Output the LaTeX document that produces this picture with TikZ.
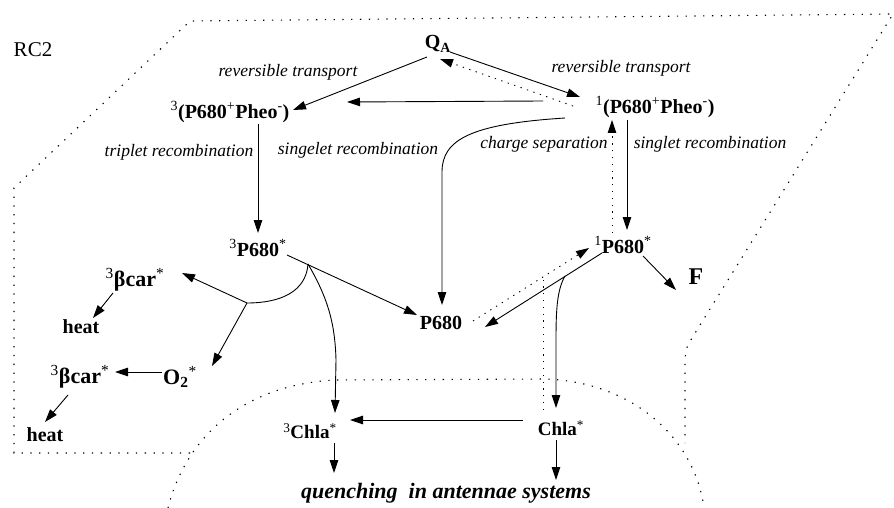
\documentclass[tikz,border=0pt]{standalone}
\usepackage{fontspec}
\setmainfont{Liberation Serif}
\usetikzlibrary{arrows.meta,calc}
\newcommand{\sps}[1]{\textsuperscript{\mdseries #1}}
\begin{document}
\begin{tikzpicture}[x=1pt,y=-1pt,
  sp/.style={font=\fontsize{20}{22}\selectfont\bfseries, inner sep=0pt},
  spbig/.style={font=\fontsize{22}{24}\selectfont\bfseries, inner sep=0pt},
  lab/.style={font=\fontsize{17.5}{19}\selectfont\itshape, inner sep=0pt},
  arr/.style={-{Triangle[length=13pt,width=8.5pt]}, line width=0.9pt},
  darr/.style={arr, dash pattern=on 1.3pt off 5.5pt},
  region/.style={line width=1.1pt, dash pattern=on 1.3pt off 7.5pt}]
\useasboundingbox (0,0) rectangle (894,508);
% regions
\draw[region] (190,453) -- (14,453) -- (14,188) -- (190,21) -- (893,14) -- (692,338) .. controls (686,348) .. (685,360) -- (685,443);
\draw[region] (168,508) .. controls (185,440) and (240,385) .. (335,380) -- (545,379) .. controls (635,382) and (695,440) .. (704,508);
% nodes
\node[font=\fontsize{21}{23}\selectfont, inner sep=0pt] (rc2) at (33,50) {RC2};
\node[sp] (qa) at (438,44) {Q\textsubscript{A}};
\node[sp] (p3) at (230,112) {\sps{3}(P680\sps{+}Pheo\sps{-})};
\node[sp] (p1) at (655,107) {\sps{1}(P680\sps{+}Pheo\sps{-})};
\node[sp] (t3) at (258,248) {\sps{3}P680\sps{*}};
\node[sp] (s1) at (623,245) {\sps{1}P680\sps{*}};
\node[sp] (p680) at (441,323) {P680};
\node[font=\fontsize{24}{26}\selectfont\bfseries, inner sep=0pt] (F) at (696,277) {F};
\node[spbig] (bc1) at (135,280) {\sps{3}βcar\sps{*}};
\node[sp] (heat1) at (81,327) {heat};
\node[spbig] (bc2) at (80,377) {\sps{3}βcar\sps{*}};
\node[spbig] (o2) at (180,377) {O\textsubscript{2}\sps{*}};
\node[sp] (heat2) at (45,435) {heat};
\node[sp, font=\fontsize{19}{21}\selectfont\bfseries] (chl3) at (310,431) {\sps{3}Chla\sps{*}};
\node[sp, font=\fontsize{19}{21}\selectfont\bfseries] (chl) at (561,428) {Chla\sps{*}};
\node[font=\fontsize{22}{24}\selectfont\bfseries\itshape, inner sep=0pt] (q) at (446,493) {quenching~~in antennae systems};
% labels
\node[lab] (l1) at (288,72) {reversible transport};
\node[lab] (l2) at (621,68) {reversible transport};
\node[lab] (l3) at (179,152) {triplet recombination};
\node[lab] (l4) at (358,150) {singelet recombination};
\node[lab] (l5) at (544,144) {charge separation};
\node[lab] (l6) at (710,144) {singlet recombination};
% junctions
\coordinate (j1) at (308,264);
\coordinate (j2) at (247,303);
\coordinate (j3) at (565,276);
\coordinate (m1) at (543,278);
% connectors
\draw[arr] ($(qa)+(-11,13)$) -- ($(p3)+(63,-2)$);
\draw[arr] ($(qa)+(12,8)$) -- ($(p1)+(-75,-10)$);
\draw[darr] ($(p1)+(-82,-1)$) -- ($(qa)+(2,15)$);
\draw[arr] ($(p1)+(-112,-6)$) -- ($(p3)+(117,-10)$);
\draw[arr] ($(p3)+(28,12)$) -- ($(t3)+(0,-15)$);
\draw[arr] ($(p1)+(-28,13)$) -- ($(s1)+(4,-15)$);
\draw[darr] ($(s1)+(-11,-12)$) -- ($(p1)+(-43,13)$);
\draw[arr] ($(p1)+(-90,11)$) .. controls (470,124) and (442,140) .. (442,172) -- ($(p680)+(1,-18)$);
\draw[arr] ($(t3)+(29,7)$) -- ($(p680)+(-24,-8)$);
\draw[line width=0.9pt] (j1) .. controls (306,292) and (280,303) .. (j2);
\draw[arr] (j2) -- ($(bc1)+(47,-7)$);
\draw[arr] (j2) -- ($(o2)+(32,-11)$);
\draw[arr] (j1) .. controls (326,295) and (335,320) .. (336,360) -- ($(chl3)+(25,-18)$);
\draw[arr] ($(bc1)+(-22,13)$) -- ($(heat1)+(12,-9)$);
\draw[arr] ($(o2)+(-18,-5)$) -- ($(bc2)+(35,-5)$);
\draw[arr] ($(bc2)+(-12,18)$) -- ($(heat2)+(0,-13)$);
\draw[arr] ($(s1)+(20,11)$) -- ($(F)+(-20,13)$);
\draw[arr] ($(s1)+(-21,8)$) -- ($(p680)+(44,4)$);
\draw[darr] ($(p680)+(32,-2)$) -- ($(s1)+(-34,3)$);
\draw[line width=0.9pt, dash pattern=on 1.3pt off 5.5pt] ($(chl)+(-18,-18)$) -- (m1);
\draw[arr] (j3) .. controls (557,290) and (556,310) .. (556,340) -- ($(chl)+(-5,-20)$);
\draw[arr] ($(chl)+(-38,-8)$) -- ($(chl3)+(40,-11)$);
\draw[arr] ($(chl)+(-5,12)$) -- ($(q)+(110,-13)$);
\draw[arr] ($(chl3)+(24,12)$) -- ($(q)+(-112,-20)$);
\end{tikzpicture}
\end{document}
